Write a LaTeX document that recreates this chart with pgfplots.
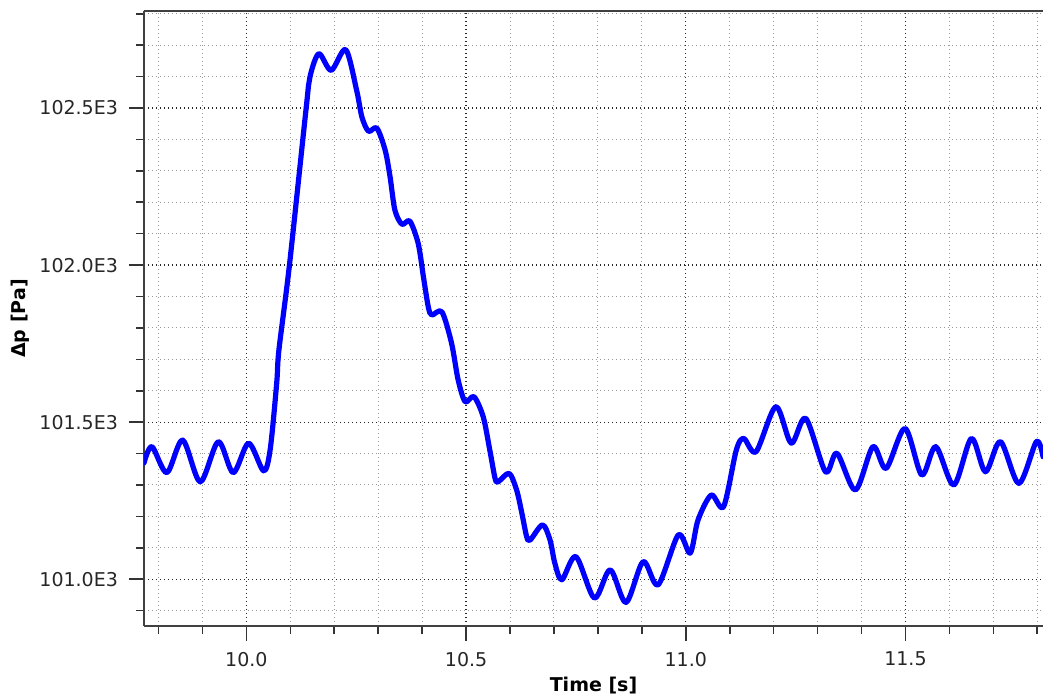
\documentclass[border=0pt]{standalone}
\usepackage{pgfplots}
\pgfplotsset{compat=1.18}
\usepackage{fontspec}
\setmainfont{DejaVu Sans}

% pressure difference over time
\pgfplotstableread{
t       p
9.767   101370
9.785   101422
9.819   101339
9.855   101443
9.895   101310
9.936   101438
9.970   101339
10.005  101433
10.039  101345
10.054  101411
10.069  101624
10.074  101729
10.098  102000
10.136  102499
10.145  102601
10.165  102673
10.193  102620
10.226  102686
10.251  102556
10.263  102471
10.278  102426
10.297  102436
10.316  102365
10.327  102281
10.338  102175
10.354  102130
10.372  102140
10.391  102069
10.403  101962
10.414  101867
10.422  101841
10.445  101851
10.467  101751
10.482  101634
10.498  101565
10.518  101581
10.539  101517
10.554  101411
10.566  101321
10.573  101310
10.598  101337
10.615  101284
10.627  101210
10.638  101135
10.646  101125
10.674  101173
10.691  101125
10.702  101051
10.718  100998
10.750  101072
10.792  100940
10.828  101030
10.864  100926
10.903  101056
10.937  100982
10.983  101141
11.010  101083
11.028  101189
11.058  101268
11.086  101231
11.115  101411
11.132  101448
11.160  101406
11.205  101549
11.240  101433
11.273  101512
11.318  101342
11.344  101401
11.386  101284
11.426  101422
11.456  101353
11.499  101480
11.537  101332
11.569  101422
11.610  101300
11.650  101448
11.682  101342
11.716  101438
11.758  101305
11.798  101438
11.813  101390
}\pressure

\definecolor{curve}{RGB}{0,0,255}

\begin{document}
\begin{tikzpicture}
\useasboundingbox (-72pt,-37pt) rectangle (449.5pt,313pt);
\begin{axis}[
  scale only axis,
  width=449.5pt, height=307.5pt,
  at={(0,0)}, anchor=south west,
  xmin=9.767, xmax=11.813,
  ymin=100851, ymax=102809,
  axis x line*=box, axis y line*=left,
  axis line style={black!75, line width=1pt, -},
  tick pos=left,
  tick align=outside,
  major tick length=7.5pt,
  minor tick length=4pt,
  every tick/.style={black!80, line width=0.8pt},
  xtick={10,10.5,11,11.5},
  xticklabels={10.0,10.5,11.0,11.5},
  minor xtick={9.8,9.9,10.1,10.2,10.3,10.4,10.6,10.7,10.8,10.9,11.1,11.2,11.3,11.4,11.6,11.7,11.8},
  ytick={101000,101500,102000,102500},
  yticklabels={101.0E3,101.5E3,102.0E3,102.5E3},
  minor ytick={100900,101100,101200,101300,101400,101600,101700,101800,101900,102100,102200,102300,102400,102600,102700,102800},
  grid=both,
  major grid style={black!85, line width=0.6pt, dash pattern=on 0.6pt off 1.4pt},
  minor grid style={black!40, line width=0.5pt, dash pattern=on 0.6pt off 1.4pt},
  tick label style={font=\fontsize{9.5}{11}\selectfont, text=black!85},
  xticklabel style={yshift=-2pt},
  yticklabel style={xshift=-2pt},
  every axis x label/.style={at={(axis description cs:0.5,-0.0976)}, anchor=center},
  every axis y label/.style={at={(axis description cs:-0.1379,0.5)}, rotate=90, anchor=center},
  label style={font=\fontsize{9.5}{11}\selectfont\bfseries},
  xlabel={Time [s]},
  ylabel={Δp [Pa]},
]
\addplot[curve, line width=2.6pt, smooth, line join=round, line cap=round] table[x=t, y=p] {\pressure};
\end{axis}
\end{tikzpicture}
\end{document}
